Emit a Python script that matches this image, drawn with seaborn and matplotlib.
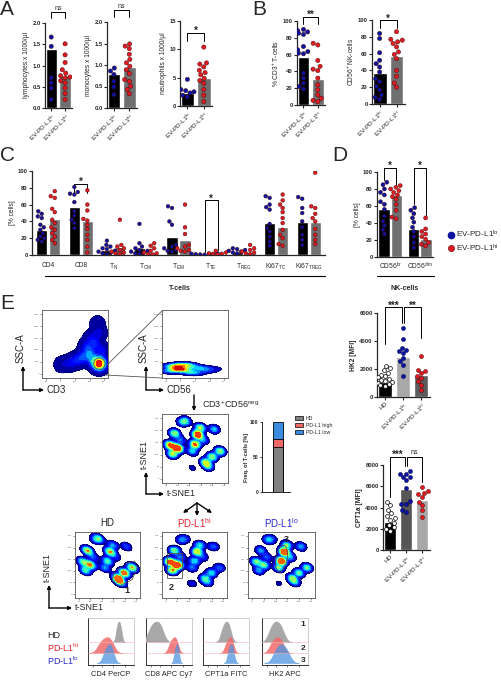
import warnings
import numpy as np
import pandas as pd
import matplotlib
matplotlib.use("Agg")
import matplotlib.pyplot as plt
import seaborn as sns
from matplotlib.patches import FancyArrowPatch, Patch, Ellipse, Rectangle, Polygon
from matplotlib.lines import Line2D

warnings.filterwarnings("ignore")

# ---------------- data ----------------
GROUPS = ["EV-PD-L1$^{lo}$", "EV-PD-L1$^{hi}$"]

# A: blood counts x 1000/µl
LYM_LO = [1.67, 1.45, 0.71, 0.59, 0.47, 0.20]
LYM_HI = [1.51, 1.25, 1.07, 0.90, 0.82, 0.76, 0.73, 0.71, 0.64, 0.59, 0.47, 0.34, 0.20]
LYM_BAR = [1.38, 0.75]
MONO_LO = [0.93, 0.86, 0.78, 0.62, 0.49, 0.31]
MONO_HI = [1.49, 1.44, 1.38, 1.25, 1.13, 1.05, 0.97, 0.89, 0.80, 0.66, 0.62, 0.51, 0.43, 0.33]
MONO_BAR = [0.80, 0.95]
NEU_LO = [4.7, 2.9, 2.7, 2.5, 2.3, 1.9, 1.6]
NEU_HI = [10.4, 7.6, 7.4, 6.9, 6.3, 5.9, 5.5, 4.9, 4.5, 4.0, 2.9, 1.9, 0.8]
NEU_BAR = [2.3, 4.9]

# B: % of lymphocytes
CD3_LO = [90, 88.5, 87, 85.5, 84, 69.6, 65.6, 63.6, 61.7, 61, 38, 32, 26, 22, 19]
CD3_HI = [73.5, 71.5, 53, 46, 42.7, 41, 32, 24, 18, 12, 8, 5.5, 4]
CD3_BAR = [57.7, 31]
NK_LO = [84, 78, 61, 52, 48, 44, 38, 30, 26.6, 21, 16.7, 10.7, 8, 5.5]
NK_HI = [86, 77, 76, 74, 72, 68, 62, 59, 54, 40, 33, 25, 20]
NK_BAR = [36.5, 57]

# C: T-cell subsets [% cells]
C_CATS = ["CD4", "CD8", "T$_N$", "T$_{CM}$", "T$_{EM}$", "T$_{TE}$", "T$_{REG}$",
          "Ki67$_{TC}$", "Ki67$_{TREG}$"]
C_LO = [[52, 49, 46, 44, 36, 33, 30, 26, 22, 20, 18, 16],
        [81, 75, 73, 72, 63, 52, 47, 42, 38, 32],
        [17, 12, 10, 8, 7, 5, 4, 3, 2, 1],
        [37, 14, 10, 8, 6, 5, 4, 3, 2, 1],
        [58, 56, 40, 36, 12, 10, 8, 6, 5, 4],
        [2, 1.5, 1.2, 1, 0.8, 0.5, 0.3],
        [8, 7, 6, 5, 4, 3, 2],
        [70, 68, 60, 57, 54, 37, 32, 28, 22, 16, 11],
        [69, 67, 56, 50, 40, 33, 24, 18, 12]]
C_HI = [[76, 70, 68, 55, 51, 42, 38, 33, 30, 26, 22, 18, 14],
        [77, 60, 53, 43, 41, 36, 31, 24, 18, 10, 3],
        [42, 12, 10, 8, 6, 4, 3, 2, 1],
        [14, 11, 8, 5, 3, 2, 1, 0.5],
        [60, 33, 25, 12, 10, 8, 6, 5, 4],
        [5, 3, 2, 1.5, 1, 0.5],
        [12, 8, 6, 4, 3, 2, 1],
        [72, 65, 60, 56, 51, 44, 38, 30, 24, 20, 13, 11],
        [98, 58, 56, 49, 44, 40, 31, 24, 18, 13]]
C_BAR_LO = [30, 57, 6, 8, 21, 1, 4, 38, 39]
C_BAR_HI = [43, 40, 9, 4, 18, 1.5, 4, 33, 39]

# D: NK-cell subsets
D_CATS = ["CD56$^{br}$", "CD56$^{dim}$"]
D_LO = [[88, 85, 80, 76, 73, 65, 62, 56, 48, 42, 37, 32, 27],
        [58, 55, 51, 46, 41, 35, 30, 24, 17, 11]]
D_HI = [[84, 82, 80, 78, 76, 73, 71, 68, 62, 55, 47, 45],
        [46, 33, 30, 27, 24, 21, 17, 15, 13]]
D_BAR_LO = [57, 33]
D_BAR_HI = [73, 21]

# E: MFI panels
E_CATS = ["HD", "EV-PD-L1$^{lo}$", "EV-PD-L1$^{hi}$"]
HK2_HD = [2200, 2050, 1900, 1750, 1600, 1500, 1400, 1300, 1250, 1150, 1100, 1000, 950, 850, 800]
HK2_LO = [4930, 4140, 3500, 3380, 3260, 3140, 2790, 2550, 2310, 1480]
HK2_HI = [2900, 1950, 1830, 1710, 1520, 1360, 1120, 880, 520]
HK2_BAR = [1050, 2860, 1600]
CPT_HD = [4550, 4240, 3760, 3450, 3200, 2980, 2820, 2570, 2350, 2130, 1950, 1820]
CPT_LO = [7450, 7200, 7200, 6900, 6900, 6600, 5800, 4600, 4300, 4300, 3800, 3600]
CPT_HI = [5960, 5580, 5400, 5270, 5020, 4550, 4240, 3760, 3070]
CPT_BAR = [2670, 5710, 4700]

# E: frequency of T-cells per cluster group (stacked)
FREQ_LABELS = ["HD", "PD-L1 high", "PD-L1 low"]
FREQ_VALUES = [64, 12, 24]

# E: flow density landmarks (relative plot coordinates, weights)
CD3_X = [0.30, 0.42, 0.52, 0.62, 0.72, 0.80, 0.86, 0.68, 0.78, 0.86, 0.88, 0.90, 0.75, 0.84]
CD3_Y = [0.20, 0.22, 0.26, 0.30, 0.36, 0.50, 0.66, 0.46, 0.26, 0.20, 0.22, 0.40, 0.58, 0.80]
CD3_W = [0.6, 1.0, 1.5, 2.0, 2.5, 1.5, 1.0, 1.5, 3.0, 6.0, 6.0, 1.5, 1.0, 0.5]
CD56_X = [0.12, 0.20, 0.27, 0.35, 0.45, 0.55, 0.65, 0.75]
CD56_Y = [0.10, 0.17, 0.13, 0.19, 0.08, 0.15, 0.11, 0.14]
CD56_W = [1.5, 3.0, 4.5, 3.0, 2.0, 1.5, 1.0, 0.6]
TSNE_X = [0.36, 0.19, 0.12, 0.24, 0.16, 0.54, 0.58, 0.50, 0.46, 0.79, 0.66, 0.76, 0.88,
          0.30, 0.46, 0.63, 0.28, 0.70]
TSNE_Y = [0.90, 0.72, 0.55, 0.50, 0.42, 0.70, 0.80, 0.56, 0.46, 0.78, 0.30, 0.38, 0.46,
          0.88, 0.22, 0.62, 0.62, 0.24]
TSNE_W_ALL = [2, 3, 4, 5, 3, 5, 3, 4, 2, 2, 3, 3, 3, 1.5, 0.6, 1.5, 1.5, 2]
TSNE_W_HD = [3, 4, 3, 4, 3, 4, 2, 3, 2, 1.5, 5, 5, 4, 1, 0.4, 1, 1.5, 3]
TSNE_W_HI = [1, 4, 6, 7, 5, 5, 3, 3, 2, 2, 3, 3, 2, 2, 1, 1.5, 2, 2]
TSNE_W_LO = [1, 2, 3, 3, 2, 6, 3, 6, 3, 2, 3, 3, 3, 2, 0.5, 2, 1.5, 2]

# E: histogram landmarks (relative channel position)
HIST_MARKERS = ["CD4 PerCP", "CD8 APC Cy7", "CPT1a FITC", "HK2 APC"]
HIST_HD = [[0.63, 0.67, 0.71], [0.08, 0.15, 0.22, 0.28, 0.34],
           [0.42, 0.48, 0.53, 0.58], [0.18, 0.25, 0.31, 0.37, 0.44]]
HIST_HI = [[0.25, 0.33, 0.40, 0.46, 0.52], [0.52, 0.58, 0.63, 0.67],
           [0.50, 0.56, 0.60, 0.64], [0.20, 0.27, 0.33, 0.38, 0.44]]
HIST_LO = [[0.36, 0.43, 0.48, 0.53], [0.63, 0.67, 0.70],
           [0.56, 0.61, 0.65], [0.28, 0.36, 0.42, 0.48, 0.56]]

# ---------------- style ----------------
BLUE = "#0a14a0"
RED = "#e01b22"
TXT_RED = "#e8202a"
TXT_BLUE = "#2a2ad0"
BAR_LO = "black"
BAR_HI = "#707070"
TICK = 4.2
LAB = 4.8
JET = matplotlib.colormaps["jet"]

sns.set_theme(style="ticks")
plt.rcParams["font.family"] = ["Liberation Sans", "DejaVu Sans"]
plt.rcParams.update({
    "mathtext.fontset": "custom",
    "mathtext.rm": "Liberation Sans",
    "mathtext.it": "Liberation Sans:italic",
    "mathtext.bf": "Liberation Sans:bold",
    "mathtext.default": "regular",
    "axes.linewidth": 0.9,
    "xtick.major.width": 0.8,
    "ytick.major.width": 0.8,
    "xtick.major.size": 2,
    "ytick.major.size": 2,
    "xtick.major.pad": 1,
    "ytick.major.pad": 1,
})

W, H = 502, 680
fig = plt.figure(figsize=(W / 100, H / 100), dpi=100)


def pxax(x0, y0, x1, y1):
    return fig.add_axes([x0 / W, 1 - y1 / H, (x1 - x0) / W, (y1 - y0) / H])


def ftext(x, y, s, **kw):
    fig.text(x / W, 1 - y / H, s, **kw)


def farrow(x0, y0, x1, y1, lw=1.0, head=True):
    fig.add_artist(FancyArrowPatch((x0 / W, 1 - y0 / H), (x1 / W, 1 - y1 / H),
                                   transform=fig.transFigure,
                                   arrowstyle="-|>" if head else "-",
                                   mutation_scale=5, lw=lw, color="black",
                                   shrinkA=0, shrinkB=0))


def fline(xs, ys, lw=0.8, color="black"):
    fig.add_artist(Line2D([x / W for x in xs], [1 - y / H for y in ys],
                          transform=fig.transFigure, lw=lw, color=color))


def bracket(ax, x1, x2, y, l1, l2, txt, fs=7, bold=True, dy=0):
    ax.plot([x1, x1, x2, x2], [l1, y, y, l2], color="black", lw=0.7, clip_on=False)
    ax.text((x1 + x2) / 2, y + dy, txt, ha="center", va="bottom", fontsize=fs,
            fontweight="bold" if bold else "normal", clip_on=False)


def yfmt(ax, ticks, labels, ylabel, fs=TICK):
    ax.set_yticks(ticks)
    ax.set_yticklabels(labels, fontsize=fs, fontweight="bold")
    ax.set_ylabel(ylabel, fontsize=LAB, labelpad=1.5)
    ax.set_xlabel("")
    sns.despine(ax=ax)


def two_bar(ax, lo, hi, bars, ymax):
    bdf = pd.DataFrame({"grp": GROUPS, "val": bars})
    sns.barplot(data=bdf, x="grp", y="val", hue="grp", order=GROUPS, hue_order=GROUPS,
                palette=[BAR_LO, BAR_HI], width=0.82, saturation=1, legend=False,
                errorbar=None, ax=ax)
    pdf = pd.DataFrame({"grp": [GROUPS[0]] * len(lo) + [GROUPS[1]] * len(hi),
                        "val": lo + hi})
    sns.swarmplot(data=pdf, x="grp", y="val", hue="grp", order=GROUPS, hue_order=GROUPS,
                  palette=[BLUE, RED], size=3.1, linewidth=0.3, edgecolor="#400000",
                  legend=False, ax=ax)
    ax.set_xlim(-0.45, 1.5)
    ax.set_ylim(0, ymax)
    ax.set_xticks([0, 1])
    ax.set_xticklabels(GROUPS, rotation=45, ha="right", rotation_mode="anchor", fontsize=4.6)


# ---------------- A ----------------
ftext(0, 0, "A", fontsize=15, va="top")
ax = pxax(45, 23, 72, 108)
two_bar(ax, LYM_LO, LYM_HI, LYM_BAR, 2.0)
yfmt(ax, [0, 0.5, 1, 1.5, 2], ["0.0", "0.5", "1.0", "1.5", "2.0"], "lymphocytes x 1000/µl")
bracket(ax, 0, 1, 2.27, 2.12, 2.12, "ns", fs=5, bold=False)

ax = pxax(107, 22, 137, 108)
two_bar(ax, MONO_LO, MONO_HI, MONO_BAR, 2.0)
yfmt(ax, [0, 0.5, 1, 1.5, 2], ["0.0", "0.5", "1.0", "1.5", "2.0"], "monocytes x 1000/µl")
bracket(ax, 0, 1, 2.27, 2.12, 2.12, "ns", fs=5, bold=False)

ax = pxax(180, 21, 212, 106)
two_bar(ax, NEU_LO, NEU_HI, NEU_BAR, 15)
yfmt(ax, [0, 5, 10, 15], ["0", "5", "10", "15"], "neutrophils x 1000/µl")
bracket(ax, 0, 1, 12.9, 11.4, 11.4, "*", dy=-0.6)

# ---------------- B ----------------
ftext(252, 0, "B", fontsize=15, va="top")
ax = pxax(297, 21, 325, 105)
two_bar(ax, CD3_LO, CD3_HI, CD3_BAR, 100)
yfmt(ax, [0, 20, 40, 60, 80, 100], ["0", "20", "40", "60", "80", "100"], "% CD3$^{+}$ T-cells")
bracket(ax, 0, 1, 105, 96, 96, "**", dy=-4)

ax = pxax(372, 20, 405, 104)
two_bar(ax, NK_LO, NK_HI, NK_BAR, 100)
yfmt(ax, [0, 20, 40, 60, 80, 100], ["0", "20", "40", "60", "80", "100"], "CD56$^{+}$ NK-cells")
bracket(ax, 0, 1, 100, 91, 91, "*", dy=-4)

# ---------------- C ----------------
ftext(0, 146, "C", fontsize=15, va="top")
crow_bar = {"cat": [], "grp": [], "val": []}
crow_pts = {"cat": [], "grp": [], "val": []}
for i, c in enumerate(C_CATS):
    crow_bar["cat"] += [c, c]
    crow_bar["grp"] += ["lo", "hi"]
    crow_bar["val"] += [C_BAR_LO[i], C_BAR_HI[i]]
    for g, vals in (("lo", C_LO[i]), ("hi", C_HI[i])):
        crow_pts["cat"] += [c] * len(vals)
        crow_pts["grp"] += [g] * len(vals)
        crow_pts["val"] += vals
ax = pxax(32, 171, 325, 255)
sns.barplot(data=pd.DataFrame(crow_bar), x="cat", y="val", hue="grp", order=C_CATS,
            hue_order=["lo", "hi"], palette=[BAR_LO, BAR_HI], width=0.8, gap=0.15,
            saturation=1, legend=False, errorbar=None, ax=ax)
sns.swarmplot(data=pd.DataFrame(crow_pts), x="cat", y="val", hue="grp", order=C_CATS,
              hue_order=["lo", "hi"], dodge=True, palette=[BLUE, RED], size=2.7,
              linewidth=0.3, edgecolor="#400000", legend=False, ax=ax)
ax.set_xlim(-0.5, 8.5)
ax.set_ylim(0, 100)
yfmt(ax, [0, 20, 40, 60, 80, 100], ["0", "20", "40", "60", "80", "100"], "[% cells]")
ax.tick_params(axis="x", length=0, labelsize=4.8, pad=5)
bracket(ax, 0.8, 1.2, 85, 74, 74, "*", dy=-4)
bracket(ax, 4.8, 5.2, 65, 3, 6, "*", dy=-4)
fline([45, 325], [276, 276], lw=0.8)
ftext(180, 288, "T-cells", fontsize=5, fontweight="bold", ha="center", va="center")

# ---------------- D ----------------
ftext(332, 146, "D", fontsize=15, va="top")
drow_bar = {"cat": [], "grp": [], "val": []}
drow_pts = {"cat": [], "grp": [], "val": []}
for i, c in enumerate(D_CATS):
    drow_bar["cat"] += [c, c]
    drow_bar["grp"] += ["lo", "hi"]
    drow_bar["val"] += [D_BAR_LO[i], D_BAR_HI[i]]
    for g, vals in (("lo", D_LO[i]), ("hi", D_HI[i])):
        drow_pts["cat"] += [c] * len(vals)
        drow_pts["grp"] += [g] * len(vals)
        drow_pts["val"] += vals
ax = pxax(377, 172, 433, 257)
sns.barplot(data=pd.DataFrame(drow_bar), x="cat", y="val", hue="grp", order=D_CATS,
            hue_order=["lo", "hi"], palette=[BAR_LO, BAR_HI], width=0.85, gap=0.1,
            saturation=1, legend=False, errorbar=None, ax=ax)
sns.swarmplot(data=pd.DataFrame(drow_pts), x="cat", y="val", hue="grp", order=D_CATS,
              hue_order=["lo", "hi"], dodge=True, palette=[BLUE, RED], size=2.9,
              linewidth=0.3, edgecolor="#400000", legend=False, ax=ax)
ax.set_xlim(-0.45, 1.45)
ax.set_ylim(0, 100)
yfmt(ax, [0, 20, 40, 60, 80, 100], ["0", "20", "40", "60", "80", "100"], "[% cells]")
ax.tick_params(axis="x", length=0, labelsize=4.8, pad=3)
bracket(ax, -0.2, 0.2, 105, 91, 85, "*", dy=-4)
bracket(ax, 0.8, 1.2, 105, 62, 50, "*", dy=-4)
fline([377, 434], [276, 276], lw=0.8)
ftext(405, 288, "NK-cells", fontsize=5, fontweight="bold", ha="center", va="center")

leg_handles = [Line2D([], [], marker="o", ls="", color=BLUE, markersize=4.5),
               Line2D([], [], marker="o", ls="", markerfacecolor=RED,
                      markeredgecolor="#600000", markeredgewidth=0.4, markersize=4.5)]
fig.legend(leg_handles, ["EV-PD-L1$^{lo}$", "EV-PD-L1$^{hi}$"], loc="upper left",
           bbox_to_anchor=(447 / W, 1 - 229 / H), fontsize=5.9, frameon=False,
           handletextpad=0.05, labelspacing=0.25, borderpad=0, borderaxespad=0,
           handlelength=1.0)

# ---------------- E ----------------
ftext(0, 294, "E", fontsize=15, va="top")


def density(ax, xs, ys, ws, bw, thresh, xt, yt):
    sns.kdeplot(x=xs, y=ys, weights=ws, fill=True, cmap=JET, levels=10,
                thresh=thresh, bw_method=bw, gridsize=160, ax=ax)
    sns.kdeplot(x=xs, y=ys, weights=ws, fill=False, levels=[thresh], color="#00006a",
                linewidths=0.5, bw_method=bw, gridsize=160, ax=ax)
    ax.set_xlim(0, 1)
    ax.set_ylim(0, 1)
    ax.set_xlabel("")
    ax.set_ylabel("")
    for s in ax.spines.values():
        s.set_linewidth(0.6)
        s.set_color("#555555")
    ax.set_xticks(np.linspace(0.06, 0.94, len(xt)))
    ax.set_xticklabels(xt)
    ax.set_yticks(np.linspace(0.06, 0.94, len(yt)))
    ax.set_yticklabels(yt)
    ax.tick_params(length=1.2, width=0.4, labelsize=1.7, pad=0.6, colors="#444444")


def l_axes(x, y, top, right, ylab, xlab, fs=7):
    farrow(x, y, x, top)
    farrow(x, y, right, y)
    ftext(right + 3, y, xlab, fontsize=fs, va="center", ha="left")
    ftext(x - 2, top - 3, ylab, fontsize=fs, va="bottom", ha="center", rotation=90)


TS_T = ["0", "50", "100", "150", "200", "250"]
TS_BW = 0.22

# CD3 vs SSC-A
ax = pxax(42, 310, 108, 378)
density(ax, CD3_X, CD3_Y, CD3_W, 0.38, 0.006,
        ["-10³", "0", "10³", "10⁴", "10⁵"], ["0", "50K", "100K", "150K", "200K", "250K"])
ax.add_patch(Ellipse((0.87, 0.21), 0.17, 0.17, fill=False, lw=0.6, ec="#555555"))
l_axes(23, 390, 366, 44, "SSC-A", "CD3")

# CD56 vs SSC-A
ax = pxax(162, 310, 228, 378)
density(ax, CD56_X, CD56_Y, CD56_W, 0.6, 0.03,
        ["-10³", "0", "10³", "10⁴", "10⁵"], ["0", "50K", "100K", "150K", "200K", "250K"])
l_axes(146, 390, 366, 164, "SSC-A", "CD56")
fline([107, 162], [365, 311], lw=0.6, color="#555555")
fline([105, 162], [375, 378], lw=0.6, color="#555555")

farrow(194, 395, 194, 411)
ftext(202, 404, "CD3$^{+}$CD56$^{neg}$", fontsize=6.5, va="center")

# combined t-SNE
ax = pxax(162, 414, 228, 483)
density(ax, TSNE_X, TSNE_Y, TSNE_W_ALL, TS_BW, 0.07, TS_T, TS_T)
l_axes(146, 494, 472, 164, "t-SNE1", "t-SNE1", fs=6.5)

# stacked frequency bar
ax = pxax(262, 422, 290, 492)
cum = np.cumsum(FREQ_VALUES)
stack_cols = ["#808080", "#f06868", "#3a8de0"]
for k in range(len(FREQ_VALUES) - 1, -1, -1):
    sns.barplot(x=["T"], y=[cum[k]], color=stack_cols[k], edgecolor="black",
                linewidth=0.6, width=0.45, saturation=1, ax=ax)
ax.set_xlim(-0.75, 0.55)
ax.set_ylim(0, 100)
ax.set_xticks([])
ax.set_yticks([0, 50, 100])
ax.set_yticklabels(["0", "50", "100"], fontsize=3.6, fontweight="bold")
ax.set_ylabel("Freq. of T-cells [%]", fontsize=4, fontweight="bold", labelpad=1)
ax.tick_params(length=1.5, width=0.6)
sns.despine(ax=ax)
for s in ax.spines.values():
    s.set_linewidth(0.7)
fig.legend([Patch(facecolor=c, edgecolor="black", lw=0.5) for c in stack_cols], FREQ_LABELS,
           loc="upper left", bbox_to_anchor=(295 / W, 1 - 416 / H), fontsize=3.8,
           frameon=False, handlelength=1.6, handleheight=0.7, labelspacing=0.35,
           handletextpad=0.5, borderpad=0, borderaxespad=0)

# three arrows to the group t-SNE maps
farrow(197, 503, 183, 513)
farrow(197, 503, 197, 516)
farrow(197, 503, 212, 513)

# group t-SNE maps
ax = pxax(75, 532, 140, 598)
density(ax, TSNE_X, TSNE_Y, TSNE_W_HD, TS_BW, 0.07, TS_T, TS_T)
ax.add_patch(Polygon([(0.57, 0.28), (0.66, 0.17), (0.88, 0.28), (0.96, 0.46),
                      (0.92, 0.56), (0.80, 0.53), (0.62, 0.41)], closed=True,
                     fill=False, lw=0.6, ec="#555555"))
ax.text(0.80, 0.12, "1", transform=ax.transAxes, fontsize=6.5, fontweight="bold",
        ha="center", va="center")
ftext(107, 523, "HD", fontsize=7, ha="center", va="center")

ax = pxax(162, 532, 227, 598)
density(ax, TSNE_X, TSNE_Y, TSNE_W_HI, TS_BW, 0.07, TS_T, TS_T)
ax.add_patch(Rectangle((0.07, 0.30), 0.23, 0.38, fill=False, lw=0.6, ec="#555555"))
ax.text(0.14, 0.16, "2", transform=ax.transAxes, fontsize=6.5, fontweight="bold",
        ha="center", va="center")
ftext(194, 523, "PD-L1$^{hi}$", fontsize=7, ha="center", va="center", color=TXT_RED)

ax = pxax(248, 532, 315, 598)
density(ax, TSNE_X, TSNE_Y, TSNE_W_LO, TS_BW, 0.07, TS_T, TS_T)
ax.add_patch(Ellipse((0.50, 0.60), 0.17, 0.40, angle=-10, fill=False, lw=0.6, ec="#555555"))
ax.text(0.57, 0.88, "3", transform=ax.transAxes, fontsize=6.5, fontweight="bold",
        ha="center", va="center")
ftext(281, 523, "PD-L1$^{lo}$", fontsize=7, ha="center", va="center", color=TXT_BLUE)

l_axes(49, 608, 585, 72, "t-SNE1", "t-SNE1", fs=6.5)

# histograms
ftext(47, 636, "HD", fontsize=6.5, va="center")
ftext(47, 648, "PD-L1$^{hi}$", fontsize=6.5, va="center", color=TXT_RED)
ftext(47, 661, "PD-L1$^{lo}$", fontsize=6.5, va="center", color=TXT_BLUE)
hist_x = [88, 146, 203, 262]
rows = [(HIST_HD, 642, 22, "#a3a3a3", 0.95), (HIST_HI, 653, 17, "#f26a6a", 0.85),
        (HIST_LO, 663, 20, "#4d93e0", 0.75)]
for m, x0 in enumerate(hist_x):
    frame = pxax(x0, 618, x0 + 46, 665)
    frame.set_xlim(0, 1)
    frame.set_ylim(0, 1)
    frame.set_yticks([])
    frame.set_xticks([0.1, 0.3, 0.55, 0.8])
    frame.set_xticklabels([])
    frame.tick_params(axis="x", length=1.2, width=0.4)
    for side, s in frame.spines.items():
        s.set_linewidth(0.5 if side in ("top", "right") else 0.7)
        s.set_color("#bbbbbb" if side in ("top", "right") else "#333333")
    for ysep in (642, 653):
        fline([x0, x0 + 46], [ysep, ysep], lw=0.4, color="#f3b5b5")
    for vals, base, hgt, col, alpha in rows:
        a = pxax(x0, base - hgt, x0 + 46, base)
        sns.kdeplot(x=vals[m], fill=True, color=col, alpha=alpha, linewidth=0.3, ax=a)
        a.set_xlim(0, 1)
        a.set_ylim(0, a.get_ylim()[1] * 1.02)
        a.set_axis_off()
        a.patch.set_alpha(0)
    ftext(x0 + 23, 675, HIST_MARKERS[m], fontsize=5.4, ha="center", va="center")
for k, yy in enumerate((625, 648, 661)):
    ftext(303, yy, str(k + 1), fontsize=6, fontweight="bold", ha="center", va="center")


def mfi_plot(ax, hd, lo, hi, bars, palette, ymax, ticks, ylabel):
    bdf = pd.DataFrame({"grp": E_CATS, "val": bars})
    sns.barplot(data=bdf, x="grp", y="val", hue="grp", order=E_CATS, hue_order=E_CATS,
                palette=palette, width=0.78, saturation=1, legend=False, errorbar=None,
                ax=ax)
    sns.swarmplot(x=[E_CATS[0]] * len(hd), y=hd, order=E_CATS, color="white",
                  edgecolor="black", linewidth=0.5, size=2.8, ax=ax)
    sns.swarmplot(x=[E_CATS[1]] * len(lo), y=lo, order=E_CATS, color=BLUE,
                  linewidth=0.3, edgecolor="#000040", size=3.0, ax=ax)
    sns.swarmplot(x=[E_CATS[2]] * len(hi), y=hi, order=E_CATS, color=RED,
                  linewidth=0.3, edgecolor="#400000", size=3.0, ax=ax)
    ax.set_xlim(-0.45, 2.5)
    ax.set_ylim(0, ymax)
    ax.set_xticks([0, 1, 2])
    ax.set_xticklabels(E_CATS, rotation=45, ha="right", rotation_mode="anchor", fontsize=4.6)
    yfmt(ax, ticks, [str(t) for t in ticks], ylabel)
    ax.yaxis.label.set_fontweight("bold")


ax = pxax(377, 313, 430, 397)
mfi_plot(ax, HK2_HD, HK2_LO, HK2_HI, HK2_BAR, ["black", "#a8a8a8", "#5c5c5c"], 6000,
         [0, 2000, 4000, 6000], "HK2 [MFI]")
bracket(ax, 0, 0.95, 6400, 3800, 5300, "***", dy=-250)
bracket(ax, 1.05, 2, 6400, 5300, 4200, "**", dy=-250)

ax = pxax(383, 465, 430, 550)
mfi_plot(ax, CPT_HD, CPT_LO, CPT_HI, CPT_BAR, ["black", "#555555", "#a8a8a8"], 8000,
         [0, 2000, 4000, 6000, 8000], "CPT1a [MFI]")
bracket(ax, 0, 0.95, 8800, 5000, 7900, "***", dy=-330)
bracket(ax, 1.05, 2, 8800, 7900, 6400, "ns", fs=5, bold=False)

fig.savefig("out.png", dpi=100)
